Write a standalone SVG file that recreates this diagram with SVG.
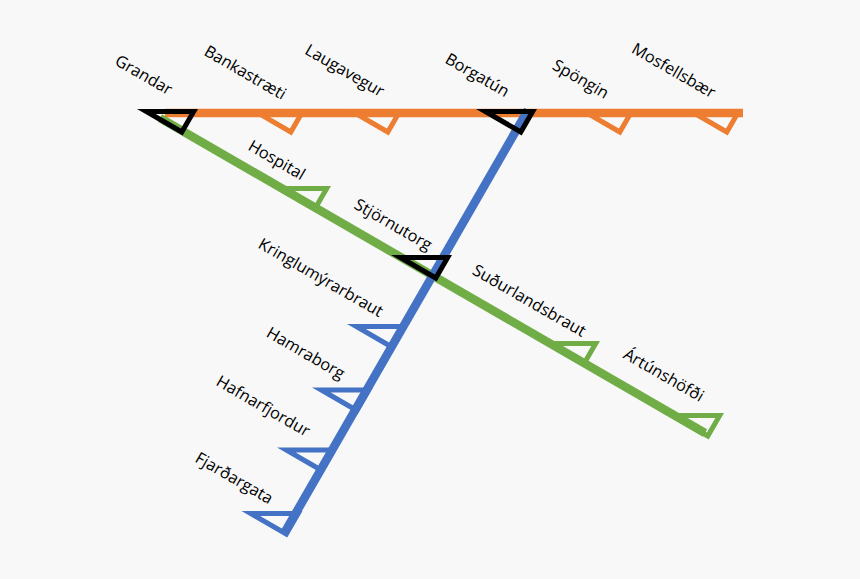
<svg xmlns="http://www.w3.org/2000/svg" width="860" height="579" viewBox="0 0 860 579">
<style>
text{font-family:"Open Sans","Noto Sans","Liberation Sans",sans-serif;font-size:16.3px;fill:#000;text-anchor:middle}
.ln{fill:none;stroke-width:8.6}
.tr{fill:none;stroke-width:5;stroke-linejoin:miter;stroke-miterlimit:10}
.o{stroke:#ed7d31}.g{stroke:#70ad47}.b{stroke:#4472c4}.k{stroke:#000}
</style>
<defs><polygon id="tri" points="9.33,2.5 56.67,2.5 44.8,23"/></defs>
<rect width="860" height="579" fill="#f8f8f8"/>
<g id="connectors">
<line class="ln o" x1="165" y1="113" x2="743" y2="113"/>
<line class="ln g" x1="160" y1="118" x2="705" y2="433"/>
<line class="ln b" x1="528" y1="110" x2="284.5" y2="532.7"/>
</g>
<g id="grandar"><use href="#tri" class="tr k" x="137" y="109"/><text transform="translate(143.5 75.5) rotate(30)" y="5">Grandar</text></g>
<g id="bankastraeti"><use href="#tri" class="tr o" x="246" y="109"/><text transform="translate(245 73) rotate(30)" y="5">Bankastræti</text></g>
<g id="laugavegur"><use href="#tri" class="tr o" x="343" y="109"/><text transform="translate(344.5 71) rotate(30)" y="5">Laugavegur</text></g>
<g id="borgatun"><use href="#tri" class="tr k" x="476" y="109"/><text transform="translate(477 75.5) rotate(30)" y="5">Borgatún</text></g>
<g id="spongin"><use href="#tri" class="tr o" x="575" y="109"/><text transform="translate(580.5 79.5) rotate(30)" y="5">Spöngin</text></g>
<g id="mosfellsbaer"><use href="#tri" class="tr o" x="682" y="109"/><text transform="translate(673.5 71) rotate(30)" y="5">Mosfellsbær</text></g>
<g id="hospital"><use href="#tri" class="tr g" x="270" y="186"/><text transform="translate(276.5 160.5) rotate(30)" y="5">Hospital</text></g>
<g id="stjornutorg"><use href="#tri" class="tr k" x="391" y="255"/><text transform="translate(393 225) rotate(30)" y="5">Stjörnutorg</text></g>
<g id="sudurlandsbraut"><use href="#tri" class="tr g" x="539" y="341"/><text transform="translate(529 301) rotate(30)" y="5">Suðurlandsbraut</text></g>
<g id="artunshofdi"><use href="#tri" class="tr g" x="663" y="413"/><text transform="translate(663.5 375.5) rotate(30)" y="5">Ártúnshöfði</text></g>
<g id="kringlumyrarbraut"><use href="#tri" class="tr b" x="347" y="324"/><text transform="translate(320.5 278) rotate(30)" y="5">Kringlumýrarbraut</text></g>
<g id="hamraborg"><use href="#tri" class="tr b" x="312" y="387.5"/><text transform="translate(305.5 353.5) rotate(30)" y="5">Hamraborg</text></g>
<g id="hafnarfjordur"><use href="#tri" class="tr b" x="277" y="447.5"/><text transform="translate(263 406.5) rotate(30)" y="5">Hafnarfjordur</text></g>
<g id="fjardargata"><use href="#tri" class="tr b" x="241.5" y="511"/><text transform="translate(234 478.5) rotate(30)" y="5">Fjarðargata</text></g>
</svg>
